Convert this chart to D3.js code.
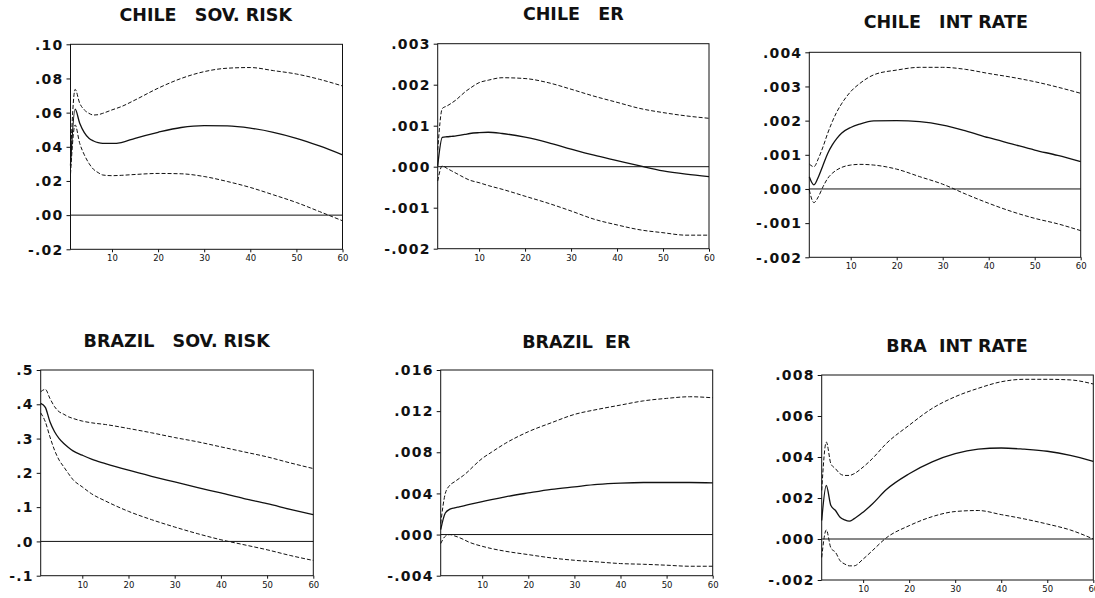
<!DOCTYPE html>
<html>
<head>
<meta charset="utf-8">
<script src="https://cdn.jsdelivr.net/npm/d3@7"></script>
<style>
  body { margin: 0; background: #fff; }
  svg text { font-family: "DejaVu Sans", sans-serif; fill: #111; }
</style>
</head>
<body>
<div id="chart"></div>
<script>
// Horizons (periods after the shock)
const periods = [1, 2, 3, 4, 5, 6, 7, 8, 10, 12, 15, 20, 25, 30, 35, 40, 45, 50, 55, 60];
const xTicks = [10, 20, 30, 40, 50, 60];

// CHILE SOV. RISK
const chileSovMid = [.029, .062, .0538, .0483, .045, .0434, .0424, .042, .042, .0425, .045, .0485, .0513, .0524, .0522, .0509, .0485, .045, .0405, .0353];
const chileSovUp = [.034, .0736, .0655, .0616, .0596, .0586, .0588, .0596, .0616, .0635, .0674, .0743, .080, .084, .086, .0864, .0846, .0826, .0795, .0756];
const chileSovLow = [.024, .0528, .042, .0353, .0303, .0268, .0249, .0235, .0231, .0233, .0238, .0244, .0242, .0226, .0197, .0162, .0119, .0074, .0021, -.0033];
const chileSovTicks = [-.02, 0, .02, .04, .06, .08, .10];
const chileSovLabels = ["-.02", ".00", ".02", ".04", ".06", ".08", ".10"];

// CHILE ER
const chileErMid = [.00002, .000715, .00073, .00074, .00075, .00077, .00079, .00081, .00083, .00084, .00081, .00072, .00059, .00043, .00028, .00015, .00002, -.0001, -.00018, -.00024];
const chileErUp = [.0004, .00142, .00148, .00155, .00163, .00173, .00183, .00191, .00205, .00211, .00217, .00215, .00205, .00189, .00172, .00157, .00142, .00132, .00124, .00118];
const chileErLow = [-.00035, .00002, -.00004, -.0001, -.00016, -.00022, -.00028, -.00033, -.00039, -.00046, -.00055, -.00072, -.00089, -.00108, -.00128, -.00142, -.00154, -.00161, -.00167, -.00167];
const chileErTicks = [-.002, -.001, 0, .001, .002, .003];
const chileErLabels = ["-.002", "-.001", ".000", ".001", ".002", ".003"];

// CHILE INT RATE
const chileIntMid = [.00036, .00012, .00036, .0007, .00104, .00129, .00148, .00163, .0018, .0019, .00199, .002, .00197, .00187, .0017, .0015, .00132, .00114, .00098, .0008];
const chileIntUp = [.00073, .00065, .0009, .00124, .00163, .00197, .00226, .00249, .00285, .00309, .00334, .00348, .00356, .00356, .0035, .00338, .00327, .00314, .00298, .0028];
const chileIntLow = [-.00003, -.0004, -.00022, .00007, .00031, .00046, .00056, .00063, .0007, .00072, .0007, .00058, .00036, .00014, -.00015, -.00042, -.00066, -.00086, -.00102, -.00122];
const chileIntTicks = [-.002, -.001, 0, .001, .002, .003, .004];
const chileIntLabels = ["-.002", "-.001", ".000", ".001", ".002", ".003", ".004"];

// BRAZIL SOV. RISK
const brazilSovMid = [.4025, .391, .349, .32, .30, .2856, .274, .264, .2515, .24, .227, .2076, .19, .1735, .157, .1413, .1248, .110, .0936, .078];
const brazilSovUp = [.4366, .4435, .417, .393, .378, .371, .3635, .3587, .351, .346, .341, .3294, .3168, .303, .2904, .2758, .2612, .2466, .229, .2125];
const brazilSovLow = [.375, .349, .305, .266, .237, .2173, .198, .18, .159, .139, .118, .0877, .0634, .042, .0224, .0049, -.0097, -.0244, -.041, -.0556];
const brazilSovTicks = [-.1, 0, .1, .2, .3, .4, .5];
const brazilSovLabels = ["-.1", ".0", ".1", ".2", ".3", ".4", ".5"];

// BRAZIL ER
const brazilErMid = [.00049, .0021, .00247, .0026, .0027, .0028, .0029, .003, .0032, .0034, .00367, .00405, .0044, .00464, .00487, .005, .00506, .00506, .00506, .00503];
const brazilErUp = [.00107, .004, .0048, .00513, .00545, .00577, .00616, .0066, .0074, .008, .00886, .01, .01087, .01168, .01217, .01259, .013, .01324, .0134, .0133];
const brazilErLow = [-.00088, -.00016, 0, -.00013, -.00029, -.00049, -.00071, -.00088, -.00114, -.00136, -.00162, -.00195, -.00227, -.0025, -.00266, -.00282, -.00289, -.00298, -.00308, -.00308];
const brazilErTicks = [-.004, 0, .004, .008, .012, .016];
const brazilErLabels = ["-.004", ".000", ".004", ".008", ".012", ".016"];

// BRA INT RATE
const brazilIntMid = [.0009, .00261, .00163, .00139, .00106, .00093, .00087, .00098, .00131, .00171, .0024, .00318, .00376, .00416, .00438, .00444, .00438, .00428, .00408, .00379];
const brazilIntUp = [.00237, .00473, .00367, .00343, .00318, .0031, .0031, .00318, .00351, .00392, .00465, .00555, .00637, .00694, .00735, .00767, .00779, .00779, .00776, .00756];
const brazilIntLow = [-.0009, .00044, -.00044, -.00065, -.00106, -.00122, -.00131, -.00131, -.00098, -.00057, .00005, .00065, .00109, .00134, .00139, .00119, .00098, .00073, .00044, 0];
const brazilIntTicks = [-.002, 0, .002, .004, .006, .008];
const brazilIntLabels = ["-.002", ".000", ".002", ".004", ".006", ".008"];

// Panel layout (pixel frame of each plot box)
const panels = [
  { title: "CHILE   SOV. RISK", mid: chileSovMid, up: chileSovUp, low: chileSovLow, ticks: chileSovTicks, labels: chileSovLabels,
    left: 70.5, right: 342.5, top: 44.3, bottom: 249.3, titleX: 205.7, titleY: 21 },
  { title: "CHILE   ER", mid: chileErMid, up: chileErUp, low: chileErLow, ticks: chileErTicks, labels: chileErLabels,
    left: 437.7, right: 709, top: 43.7, bottom: 248.7, titleX: 573.3, titleY: 20 },
  { title: "CHILE   INT RATE", mid: chileIntMid, up: chileIntUp, low: chileIntLow, ticks: chileIntTicks, labels: chileIntLabels,
    left: 809.3, right: 1080.7, top: 52.3, bottom: 257.3, titleX: 945.8, titleY: 28.3 },
  { title: "BRAZIL   SOV. RISK", mid: brazilSovMid, up: brazilSovUp, low: brazilSovLow, ticks: brazilSovTicks, labels: brazilSovLabels,
    left: 40.7, right: 313.3, top: 370, bottom: 575.7, titleX: 176.7, titleY: 347.3 },
  { title: "BRAZIL  ER", mid: brazilErMid, up: brazilErUp, low: brazilErLow, ticks: brazilErTicks, labels: brazilErLabels,
    left: 440.7, right: 712.7, top: 370, bottom: 575.7, titleX: 576.3, titleY: 348.3 },
  { title: "BRA  INT RATE", mid: brazilIntMid, up: brazilIntUp, low: brazilIntLow, ticks: brazilIntTicks, labels: brazilIntLabels,
    left: 821.7, right: 1093.3, top: 375, bottom: 580, titleX: 957, titleY: 351.7 }
];

const svg = d3.select("#chart")
  .append("svg")
  .attr("width", 1095)
  .attr("height", 598);

panels.forEach(p => {
  const g = svg.append("g");

  const x = d3.scaleLinear().domain([1, 60]).range([p.left, p.right]);
  const y = d3.scaleLinear().domain([p.ticks[0], p.ticks[p.ticks.length - 1]]).range([p.bottom, p.top]);

  // title
  g.append("text")
    .attr("x", p.titleX)
    .attr("y", p.titleY)
    .attr("text-anchor", "middle")
    .style("white-space", "pre")
    .style("font-size", "17.5px")
    .style("font-weight", "bold")
    .text(p.title);

  // y axis with custom labels
  const yAxis = g.append("g")
    .attr("transform", `translate(${p.left},0)`)
    .call(d3.axisLeft(y).tickValues(p.ticks).tickSize(4).tickPadding(3)
      .tickFormat((d, i) => p.labels[i]));
  yAxis.select(".domain").remove();
  yAxis.selectAll("line").attr("stroke", "#111");
  yAxis.selectAll("text")
    .attr("dy", "0.55em")
    .attr("y", -3)
    .style("font-size", "14px")
    .style("letter-spacing", "1.2px")
    .style("font-weight", "bold")
    .style("font-family", "DejaVu Sans, sans-serif");

  // x axis
  const xAxis = g.append("g")
    .attr("transform", `translate(0,${p.bottom})`)
    .call(d3.axisBottom(x).tickValues(xTicks).tickSize(3).tickPadding(3));
  xAxis.select(".domain").remove();
  xAxis.selectAll("line").attr("stroke", "#111");
  xAxis.selectAll("text")
    .style("font-size", "8.5px")
    .style("font-family", "DejaVu Sans, sans-serif");

  // zero line
  g.append("line")
    .attr("x1", p.left).attr("x2", p.right)
    .attr("y1", y(0)).attr("y2", y(0))
    .attr("stroke", "#111")
    .attr("stroke-width", 1);

  const line = d3.line()
    .x((d, i) => x(periods[i]))
    .y(d => y(d))
    .curve(d3.curveMonotoneX);

  // confidence bands
  [p.up, p.low].forEach(band => {
    g.append("path")
      .datum(band)
      .attr("fill", "none")
      .attr("stroke", "#111")
      .attr("stroke-width", 1)
      .attr("stroke-dasharray", "4,2")
      .attr("d", line);
  });

  // response
  g.append("path")
    .datum(p.mid)
    .attr("fill", "none")
    .attr("stroke", "#111")
    .attr("stroke-width", 1.3)
    .attr("d", line);

  // frame
  g.append("rect")
    .attr("x", p.left).attr("y", p.top)
    .attr("width", p.right - p.left)
    .attr("height", p.bottom - p.top)
    .attr("fill", "none")
    .attr("stroke", "#111")
    .attr("stroke-width", 1);
});
</script>
</body>
</html>
